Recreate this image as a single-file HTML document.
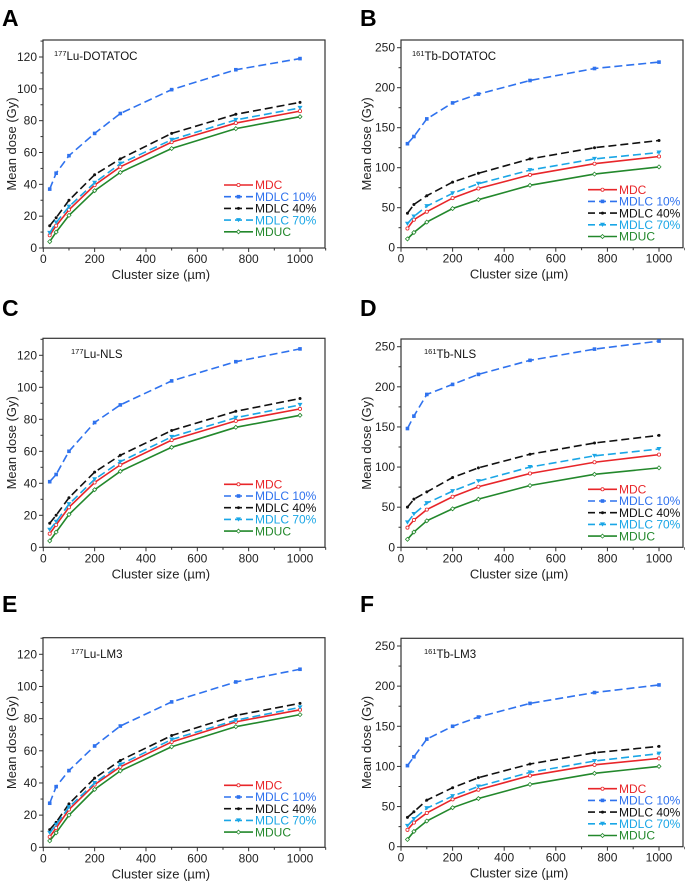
<!DOCTYPE html>
<html><head><meta charset="utf-8">
<style>
html,body{margin:0;padding:0;background:#fff;}
svg{display:block;font-family:"Liberation Sans",Arial,sans-serif;}
</style></head>
<body>
<svg id="fig" width="685" height="885" viewBox="0 0 685 885"></svg>
<script>
// shared x categories
const clusterSizes = [25, 50, 100, 200, 300, 500, 750, 1000];
const xTicks = [0, 200, 400, 600, 800, 1000];
const seriesNames = ["MDC", "MDLC 10%", "MDLC 40%", "MDLC 70%", "MDUC"];
const yTicksLu = [0, 20, 40, 60, 80, 100, 120];
const yTicksTb = [0, 50, 100, 150, 200, 250];

// Panel A 177Lu-DOTATOC
const aMDC   = [8, 14, 24, 39.5, 51, 66.5, 78.5, 86];
const aL10   = [37, 47, 58, 72, 84.5, 99.5, 112, 119];
const aL40   = [14, 19, 30, 46, 56, 72, 84, 91.5];
const aL70   = [9.5, 16, 26, 41, 53, 68, 80.5, 88];
const aMDUC  = [4, 10, 20.5, 36, 47.5, 62.5, 75, 82.5];
// Panel B 161Tb-DOTATOC
const bMDC   = [24, 35, 45, 62, 74, 91, 105, 114];
const bL10   = [130, 139, 161, 181, 192, 209, 224, 232];
const bL40   = [43, 54, 65, 82, 93, 111, 125, 134];
const bL70   = [30, 39, 52, 68, 80, 97, 111, 119];
const bMDUC  = [11, 19, 32, 49, 60, 78, 92, 101];
// Panel C 177Lu-NLS
const cMDC   = [8.5, 14, 25, 40.5, 51.5, 67, 79, 86.5];
const cL10   = [41, 45.5, 60, 78, 89, 104, 116, 124];
const cL40   = [15, 20, 31, 47, 57.5, 73, 85, 93];
const cL70   = [11, 16, 27, 42.5, 53.5, 69, 81, 89];
const cMDUC  = [4, 9.5, 20.5, 36, 47.5, 62.5, 75, 82.5];
// Panel D 161Tb-NLS
const dMDC   = [24.5, 34, 47, 63, 75.5, 92, 106, 115.5];
const dL10   = [148, 163.5, 190.5, 203, 215.5, 233, 247, 257];
const dL40   = [50, 60, 69, 87, 99, 116, 130, 139.5];
const dL70   = [31, 41.5, 55, 70, 82.5, 100, 114, 122.5];
const dMDUC  = [10, 19, 33, 48, 60, 77, 91, 99];
// Panel E 177Lu-LM3
const eMDC   = [6.5, 12, 23.5, 39, 50, 65.5, 78, 85.5];
const eL10   = [27.4, 37.7, 47.7, 63, 75.4, 90.4, 102.8, 110.7];
const eL40   = [11, 15.5, 27, 43, 54, 69.5, 82, 89.5];
const eL70   = [9, 14, 25, 40, 51.5, 67, 79, 87];
const eMDUC  = [4, 9, 20, 36, 47.5, 62.5, 75, 82.5];
// Panel F 161Tb-LM3
const fMDC   = [21, 30, 42, 59, 71, 88.5, 102, 110];
const fL10   = [101, 112, 134, 150, 161.5, 178.5, 192, 201.5];
const fL40   = [36.5, 43.5, 58, 73.5, 86, 103, 117, 125];
const fL70   = [26, 34.5, 48, 63, 75, 92.6, 106.7, 116];
const fMDUC  = [9, 19, 32, 48.6, 60, 77.6, 91.4, 100];

const panelLetters = ["A","B","C","D","E","F"];
const panelTitles = [["177","Lu-DOTATOC"],["161","Tb-DOTATOC"],["177","Lu-NLS"],["161","Tb-NLS"],["177","Lu-LM3"],["161","Tb-LM3"]];

const NS = "http://www.w3.org/2000/svg";
const svg = document.getElementById("fig");
function mk(tag, attrs, parent){
  const e = document.createElementNS(NS, tag);
  for (const k in attrs) e.setAttribute(k, attrs[k]);
  (parent||svg).appendChild(e);
  return e;
}
const styles = [
  {color:"#e8262a", dash:"", marker:"circle"},
  {color:"#2f72ee", dash:"8,4", marker:"square"},
  {color:"#111111", dash:"8,4", marker:"dot"},
  {color:"#1aa6e6", dash:"8,4", marker:"tri"},
  {color:"#23882c", dash:"", marker:"diamond"}
];

const panels = [
  {data:[aMDC,aL10,aL40,aL70,aMDUC], left:43, right:325, top:40, bottom:248, yRef:120, yRefPx:57, yTicks:yTicksLu, lgOff:63, lgX:181, letterX:2, letterY:26, ttlX:54, ttlY:60, yTitleX:12},
  {data:[bMDC,bL10,bL40,bL70,bMDUC], left:401, right:683, top:40, bottom:247.7, yRef:250, yRefPx:47.7, yTicks:yTicksTb, lgOff:58, lgX:187, letterX:360, letterY:26, ttlX:412, ttlY:60, yTitleX:367},
  {data:[cMDC,cL10,cL40,cL70,cMDUC], left:43, right:325, top:338.3, bottom:547.3, yRef:120, yRefPx:355.3, yTicks:yTicksLu, lgOff:63, lgX:181, letterX:2, letterY:316, ttlX:71, ttlY:358, yTitleX:12},
  {data:[dMDC,dL10,dL40,dL70,dMDUC], left:401, right:683, top:339, bottom:547.3, yRef:250, yRefPx:346.7, yTicks:yTicksTb, lgOff:58, lgX:187, letterX:360, letterY:316, ttlX:424, ttlY:358, yTitleX:367},
  {data:[eMDC,eL10,eL40,eL70,eMDUC], left:43, right:325, top:637.7, bottom:847.3, yRef:120, yRefPx:654.3, yTicks:yTicksLu, lgOff:62, lgX:181, letterX:2, letterY:612, ttlX:71, ttlY:658, yTitleX:12},
  {data:[fMDC,fL10,fL40,fL70,fMDUC], left:401, right:683, top:638.3, bottom:846.7, yRef:250, yRefPx:646, yTicks:yTicksTb, lgOff:58, lgX:187, letterX:360, letterY:612, ttlX:424, ttlY:658, yTitleX:367}
];

function marker(g, type, x, y, color){
  let m;
  if (type==="circle") m = mk("circle",{cx:x,cy:y,r:1.6,fill:"#fff",stroke:color,"stroke-width":0.8},g);
  else if (type==="square") m = mk("rect",{x:x-1.8,y:y-1.8,width:3.6,height:3.6,fill:color},g);
  else if (type==="dot") m = mk("circle",{cx:x,cy:y,r:1.5,fill:color},g);
  else if (type==="tri") m = mk("path",{d:`M${x-2.5},${y-2} L${x+2.5},${y-2} L${x},${y+2.2} Z`,fill:color},g);
  else m = mk("path",{d:`M${x},${y-2} L${x+2},${y} L${x},${y+2} L${x-2},${y} Z`,fill:"#fff",stroke:color,"stroke-width":0.8},g);
  return m;
}

panels.forEach((p, pi) => {
  const g = mk("g", {});
  
  
  const x0 = p.left + (pi%2===0 ? 0.3 : 0);
  const x1000 = pi%2===0 ? 300 : 659;
  const xs = v => x0 + (x1000 - x0) * v / 1000;
  const ys = v => p.bottom - (p.bottom - p.yRefPx) * v / p.yRef;

  const letter = mk("text",{x:p.letterX,y:p.letterY,"font-size":23,"font-weight":"bold",fill:"#000"},g);
  letter.textContent = panelLetters[pi];
  
  

  const frame = mk("rect",{x:p.left,y:p.top,width:p.right-p.left,height:p.bottom-p.top,fill:"none",stroke:"#333","stroke-width":1.2},g);
  
  

  const xAxis = mk("g",{},g);
  
  
  for (let v=0; v<=1100; v+=100){
    const major = xTicks.includes(v);
    mk("line",{x1:xs(v),x2:xs(v),y1:p.bottom,y2:p.bottom+(major?4:2.5),stroke:"#333","stroke-width":1},xAxis);
  }
  xTicks.forEach(v=>{
    const t = mk("text",{x:xs(v),y:p.bottom+15,"font-size":12,"text-anchor":"middle",fill:"#222"},xAxis);
    t.textContent = v;
    
    
  });
  const xt = mk("text",{x:xs(450)+2,y:p.bottom+31,"font-size":13,"text-anchor":"middle",fill:"#222"},g);
  xt.textContent = "Cluster size  (\u00b5m)";
  
  

  const yAxis = mk("g",{},g);
  
  
  const step = p.yTicks[1]-p.yTicks[0];
  const maxV = p.yRef * (p.bottom - p.top)/(p.bottom - p.yRefPx);
  for (let v=0; v<=maxV+0.01; v+=step/2){
    const major = Math.abs((v/step)-Math.round(v/step))<1e-6;
    mk("line",{x1:p.left,x2:p.left-(major?4:2.5),y1:ys(v),y2:ys(v),stroke:"#333","stroke-width":1},yAxis);
  }
  p.yTicks.forEach(v=>{
    const t = mk("text",{x:p.left-6,y:ys(v)+4,"font-size":12,"text-anchor":"end",fill:"#222"},yAxis);
    t.textContent = v;
    
    
  });
  const cy = (p.top+p.bottom)/2;
  const yt = mk("text",{x:p.yTitleX,y:cy,"font-size":13,"text-anchor":"middle",fill:"#222",transform:`rotate(-90 ${p.yTitleX} ${cy})`,dy:4},g);
  yt.textContent = "Mean dose (Gy)";
  
  

  const tt = mk("text",{x:p.ttlX,y:p.ttlY,"font-size":11.5,fill:"#111"},g);
  const sup = mk("tspan",{"font-size":7.5,dy:-4},tt); sup.textContent = panelTitles[pi][0];
  const rest = mk("tspan",{dy:4},tt); rest.textContent = panelTitles[pi][1];
  
  

  p.data.forEach((vals, si) => {
    const st = styles[si];
    const sg = mk("g",{},g);
    
    
    const pts = vals.map((v,i)=>`${xs(clusterSizes[i]).toFixed(2)},${ys(v).toFixed(2)}`).join(" ");
    const line = mk("polyline",{points:pts,fill:"none",stroke:st.color,"stroke-width":1.6,"stroke-dasharray":st.dash||"none"},sg);
    
    
    vals.forEach((v,i)=>{
      const m = marker(sg, st.marker, xs(clusterSizes[i]), ys(v), st.color);
      
      
    });
  });

  const lg = mk("g",{},g);
  
  
  seriesNames.forEach((n, si)=>{
    const st = styles[si];
    const ly = p.bottom - p.lgOff + si*11.7;
    const lx = p.left + p.lgX;
    const e = mk("g",{},lg);
    
    
    mk("line",{x1:lx,x2:lx+29,y1:ly,y2:ly,stroke:st.color,"stroke-width":1.6,"stroke-dasharray":st.dash?"7,4":"none"},e);
    marker(e, st.marker, lx+14.5, ly, st.color);
    const t = mk("text",{x:lx+31,y:ly+4.2,"font-size":12,fill:st.color},e);
    t.textContent = n;
  });
});
</script>
</body></html>
